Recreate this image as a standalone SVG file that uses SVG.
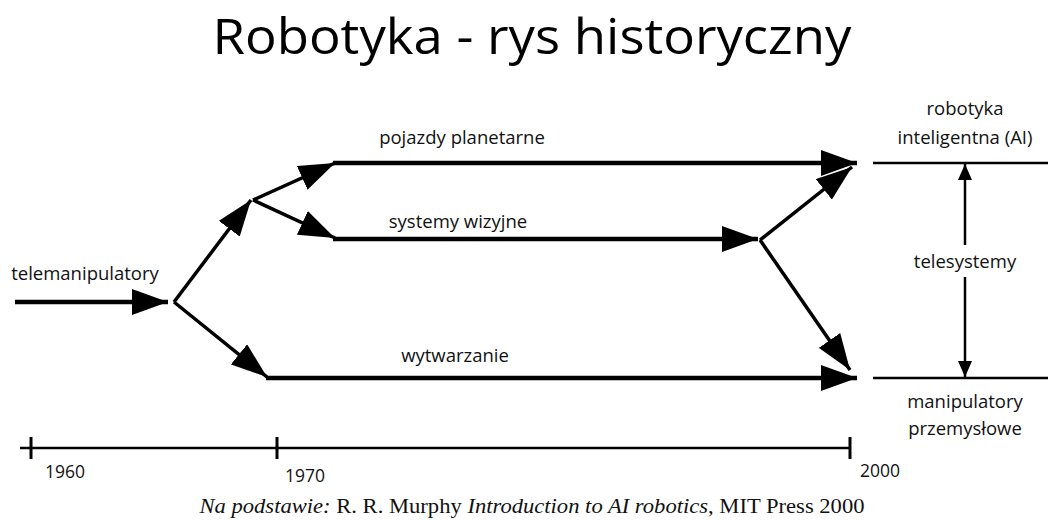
<svg xmlns="http://www.w3.org/2000/svg" width="1048" height="520" viewBox="0 0 1048 520">
<style>
.lbl{font-family:"Open Sans","DejaVu Sans",sans-serif;font-size:18.5px;fill:#111;text-anchor:middle}
.yr{font-family:"Open Sans","DejaVu Sans",sans-serif;font-size:17.5px;fill:#111}
.main{stroke:#000;stroke-width:4.5;fill:none;marker-end:url(#big)}
.diag{stroke:#000;stroke-width:3.5;fill:none;marker-end:url(#big)}
.thin{stroke:#000;stroke-width:2.5;fill:none}
.cap{font-family:"Liberation Serif","Times New Roman",serif;font-size:22px;fill:#111}
</style>
<defs>
<marker id="big" viewBox="0 0 36 26" refX="36" refY="13" markerWidth="36" markerHeight="26" markerUnits="userSpaceOnUse" orient="auto">
<path d="M0,0 L36,13 L0,26 Z" fill="#000"/>
</marker>
<marker id="small" viewBox="0 0 16 14" refX="16" refY="7" markerWidth="16" markerHeight="14" markerUnits="userSpaceOnUse" orient="auto">
<path d="M0,0 L16,7 L0,14 Z" fill="#000"/>
</marker>
</defs>
<rect width="1048" height="520" fill="#fff"/>
<text x="532" y="54" font-family="Open Sans,DejaVu Sans,sans-serif" font-size="50" fill="#000" text-anchor="middle" textLength="639" lengthAdjust="spacingAndGlyphs">Robotyka - rys historyczny</text>
<g id="connectors">
<line class="main" x1="15" y1="302" x2="168" y2="302"/>
<line class="diag" x1="174" y1="302" x2="251" y2="200"/>
<line class="diag" x1="174" y1="302" x2="267" y2="377"/>
<line class="diag" x1="253" y1="200" x2="335" y2="163"/>
<line class="diag" x1="253" y1="200" x2="335" y2="238"/>
<line class="main" x1="333" y1="163" x2="857" y2="163"/>
<line class="main" x1="333" y1="239" x2="758" y2="239"/>
<line class="main" x1="266" y1="378" x2="857" y2="378"/>
<line class="diag" x1="760" y1="240" x2="852" y2="167"/>
<line class="diag" x1="760" y1="240" x2="850" y2="370"/>
<line class="thin" x1="965" y1="245" x2="965" y2="164" marker-end="url(#small)"/>
<line class="thin" x1="965" y1="277" x2="965" y2="377" marker-end="url(#small)"/>
</g>
<g id="telemanipulatory"><text class="lbl" x="85" y="280">telemanipulatory</text></g>
<g id="pojazdy"><text class="lbl" x="462" y="144">pojazdy planetarne</text></g>
<g id="systemy"><text class="lbl" x="458" y="228">systemy wizyjne</text></g>
<g id="wytwarzanie"><text class="lbl" x="455" y="362">wytwarzanie</text></g>
<g id="ai">
<line class="thin" x1="873" y1="163" x2="1048" y2="163"/>
<text class="lbl" x="965" y="115">robotyka</text>
<text class="lbl" x="965" y="144">inteligentna (AI)</text>
</g>
<g id="telesystemy"><text class="lbl" x="965" y="268">telesystemy</text></g>
<g id="manipulatory">
<line class="thin" x1="873" y1="378" x2="1048" y2="378"/>
<text class="lbl" x="965" y="408">manipulatory</text>
<text class="lbl" x="965" y="435">przemysłowe</text>
</g>
<g id="timeline">
<line x1="20" y1="448" x2="851" y2="448" stroke="#000" stroke-width="2.5"/>
<line x1="31" y1="437" x2="31" y2="459" stroke="#000" stroke-width="3"/>
<line x1="277" y1="437" x2="277" y2="459" stroke="#000" stroke-width="3"/>
<line x1="850" y1="437" x2="850" y2="459" stroke="#000" stroke-width="3"/>
<text class="yr" x="45" y="478">1960</text>
<text class="yr" x="285" y="482">1970</text>
<text class="yr" x="860" y="477">2000</text>
</g>
<text class="cap" x="532" y="513" text-anchor="middle" textLength="665" lengthAdjust="spacingAndGlyphs"><tspan font-style="italic">Na podstawie:</tspan> R. R. Murphy <tspan font-style="italic">Introduction to AI robotics</tspan>, MIT Press 2000</text>
</svg>
